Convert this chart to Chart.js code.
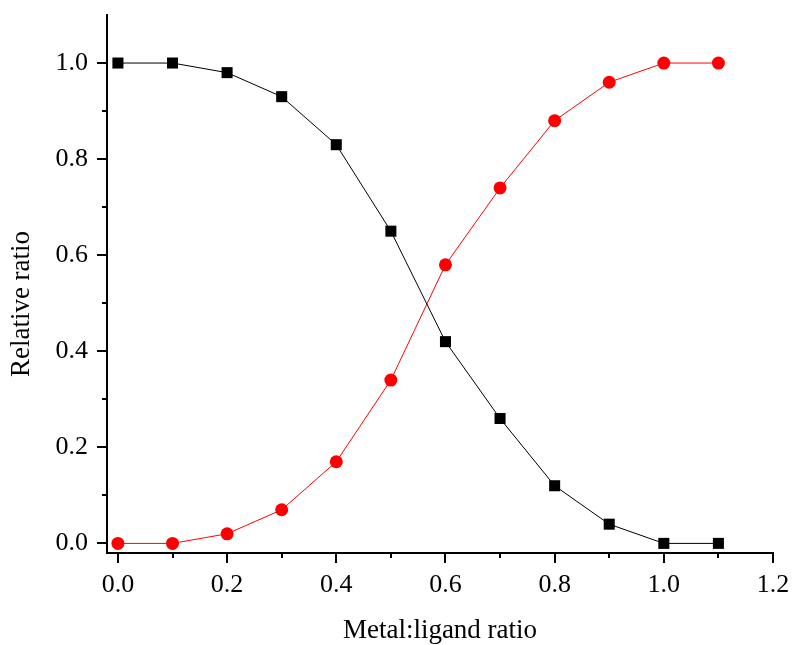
<!DOCTYPE html>
<html>
<head>
<meta charset="utf-8">
<script src="https://cdn.jsdelivr.net/npm/chart.js@4"></script>
<style>
  html, body { margin: 0; padding: 0; background: #fff; }
  canvas { display: block; }
</style>
</head>
<body>
<canvas id="ratioChart" width="795" height="645"></canvas>
<script>
const xValues = [0.0, 0.1, 0.2, 0.3, 0.4, 0.5, 0.6, 0.7, 0.8, 0.9, 1.0, 1.1];
const ligandSeries = [1.0, 1.0, 0.98, 0.93, 0.83, 0.65, 0.42, 0.26, 0.12, 0.04, 0.0, 0.0];
const complexSeries = [0.0, 0.0, 0.02, 0.07, 0.17, 0.34, 0.58, 0.74, 0.88, 0.96, 1.0, 1.0];
const xTicks = [0.0, 0.2, 0.4, 0.6, 0.8, 1.0, 1.2];
const yTicks = [0.0, 0.2, 0.4, 0.6, 0.8, 1.0];
const xMinorTicks = [0.1, 0.3, 0.5, 0.7, 0.9, 1.1];
const yMinorTicks = [0.1, 0.3, 0.5, 0.7, 0.9];
const xTitle = 'Metal:ligand ratio';
const yTitle = 'Relative ratio';

const FONT = '"Liberation Serif", "Times New Roman", serif';

function toPoints(ys) {
    return xValues.map(function (x, i) { return { x: x, y: ys[i] }; });
}

// outward tick marks (major + minor) and the two axis titles
const axisDecor = {
    id: 'axisDecor',
    afterDraw: function (chart) {
        const ctx = chart.ctx;
        const xs = chart.scales.x, ys = chart.scales.y;
        const area = chart.chartArea;
        ctx.save();
        ctx.strokeStyle = '#000';
        ctx.lineWidth = 2;
        ctx.beginPath();
        xTicks.forEach(function (v) {
            const px = Math.round(xs.getPixelForValue(v));
            ctx.moveTo(px, area.bottom); ctx.lineTo(px, area.bottom + 10);
        });
        xMinorTicks.forEach(function (v) {
            const px = Math.round(xs.getPixelForValue(v));
            ctx.moveTo(px, area.bottom); ctx.lineTo(px, area.bottom + 5);
        });
        yTicks.forEach(function (v) {
            const py = Math.round(ys.getPixelForValue(v));
            ctx.moveTo(area.left, py); ctx.lineTo(area.left - 10, py);
        });
        yMinorTicks.forEach(function (v) {
            const py = Math.round(ys.getPixelForValue(v));
            ctx.moveTo(area.left, py); ctx.lineTo(area.left - 5, py);
        });
        ctx.stroke();

        ctx.fillStyle = '#000';
        ctx.font = '27px ' + FONT;
        ctx.textAlign = 'center';
        ctx.textBaseline = 'alphabetic';
        ctx.fillText(xTitle, (area.left + area.right) / 2, 638);
        ctx.translate(22, 304);
        ctx.rotate(-Math.PI / 2);
        ctx.textBaseline = 'middle';
        ctx.fillText(yTitle, 0, 0);
        ctx.restore();
    }
};

function noPad(s) {
    s.paddingTop = 0; s.paddingBottom = 0;
    s.paddingLeft = 0; s.paddingRight = 0;
}

new Chart(document.getElementById('ratioChart').getContext('2d'), {
    type: 'line',
    data: {
        datasets: [{
            label: 'ligand',
            data: toPoints(ligandSeries),
            borderColor: '#000000',
            backgroundColor: '#000000',
            borderWidth: 1,
            pointStyle: 'rect',
            pointRadius: 7.8,
            pointBorderWidth: 0,
            tension: 0
        }, {
            label: 'complex',
            data: toPoints(complexSeries),
            borderColor: '#ff0000',
            backgroundColor: '#ff0000',
            borderWidth: 1,
            pointStyle: 'circle',
            pointRadius: 6.5,
            pointBorderWidth: 0,
            tension: 0
        }]
    },
    options: {
        responsive: false,
        animation: false,
        layout: { padding: { top: 15, right: 22, left: 0, bottom: 0 } },
        plugins: {
            legend: { display: false },
            tooltip: { enabled: false }
        },
        scales: {
            x: {
                type: 'linear',
                min: -0.02,
                max: 1.2,
                afterFit: function (s) { s.height = 92; noPad(s); },
                afterBuildTicks: function (s) { s.ticks = xTicks.map(function (v) { return { value: v }; }); },
                grid: { display: false, drawTicks: false },
                border: { display: true, color: '#000', width: 2 },
                ticks: {
                    color: '#000',
                    padding: 17,
                    maxRotation: 0,
                    font: { family: FONT, size: 26 },
                    callback: function (v) { return v.toFixed(1); }
                }
            },
            y: {
                type: 'linear',
                min: -0.02,
                max: 1.1,
                afterFit: function (s) { s.width = 107; noPad(s); },
                afterBuildTicks: function (s) { s.ticks = yTicks.map(function (v) { return { value: v }; }); },
                grid: { display: false, drawTicks: false },
                border: { display: true, color: '#000', width: 2 },
                ticks: {
                    color: '#000',
                    padding: 19,
                    font: { family: FONT, size: 26 },
                    callback: function (v) { return v.toFixed(1); }
                }
            }
        }
    },
    plugins: [axisDecor]
});
</script>
</body>
</html>
